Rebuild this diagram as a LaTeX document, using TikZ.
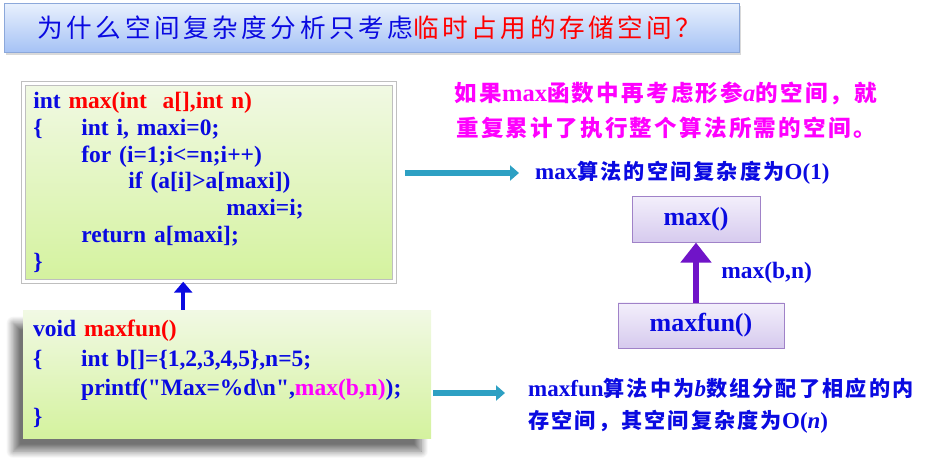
\documentclass[tikz,border=0pt]{standalone}
\usepackage{fontspec}
\setmainfont{Liberation Serif}
\newfontfamily\rawserif{Liberation Serif}
\newfontfamily\cjk[Scale=0.92,LetterSpace=10]{Noto Sans CJK SC}
\newfontfamily\cjktitle[LetterSpace=14]{Noto Sans CJK SC}
\usetikzlibrary{arrows.meta,positioning,calc,shadows,shadows.blur}
\definecolor{codeblue}{RGB}{10,10,225}
\definecolor{codered}{RGB}{255,0,0}
\definecolor{notepink}{RGB}{255,0,255}
\definecolor{greentop}{RGB}{241,249,228}
\definecolor{greenbot}{RGB}{212,242,158}
\definecolor{titletop}{RGB}{232,240,253}
\definecolor{titlebot}{RGB}{165,194,245}
\definecolor{titleline}{RGB}{140,168,218}
\definecolor{violettop}{RGB}{243,239,251}
\definecolor{violetbot}{RGB}{214,202,238}
\definecolor{violetline}{RGB}{160,130,200}
\definecolor{callcol}{RGB}{112,20,200}
\definecolor{flowcol}{RGB}{45,160,195}
\newcommand{\zh}[1]{{\cjk #1}}
\newcommand{\dq}{{\rawserif"}}

\begin{document}
\begin{tikzpicture}[x=1pt,y=-1pt,
   banner/.style={draw=titleline,line width=1pt,top color=titletop,bottom color=titlebot,
                  minimum width=735pt,minimum height=49pt,inner xsep=33pt,text width=669pt,
                  align=left,font=\fontsize{25.6}{30}\selectfont\cjktitle,
                  drop shadow={shadow xshift=1.5pt,shadow yshift=-2.5pt,opacity=.3}},
   code/.style={top color=greentop,bottom color=greenbot,inner xsep=10pt,align=left,
                text=codeblue,font=\fontsize{23.5}{26.8}\selectfont\bfseries},
   frame/.style={draw=black!25,line width=.7pt,double=white,double distance=3.5pt,
                 drop shadow={shadow xshift=1pt,shadow yshift=-1.5pt,opacity=.25}},
   call/.style={draw=violetline,line width=.8pt,top color=violettop,bottom color=violetbot,
                text=codeblue,font=\fontsize{26}{30}\selectfont\bfseries},
   txt/.style={inner sep=0pt,text=codeblue,font=\fontsize{23}{32}\selectfont\bfseries},
   flow/.style={-{Triangle[width=15pt,length=9pt]},line width=6.5pt,flowcol},
   callup/.style={-{Triangle[width=18pt,length=11pt]},line width=4pt,codeblue},
   callarrow/.style={-{Triangle[width=30pt,length=20pt]},line width=6.5pt,callcol}]
  \useasboundingbox (0,0) rectangle (940,462);

  \node[banner,anchor=north west] (title) at (4,3)
        {{\color{codeblue}为什么空间复杂度分析只考虑}{\color{codered}临时占用的存储空间？}};

  % the two code boxes
  \node[code,frame,anchor=north west,text width=351pt,minimum height=198pt] (codemax) at (23,83)
        {int {\color{codered}max(int\ \ a[],int n)}\\
         \makebox[48pt][l]{\{}int i, maxi=0;\\
         \hspace*{48pt}for (i=1;i<=n;i++)\\
         \hspace*{95pt}if (a[i]>a[maxi])\\
         \hspace*{193pt}maxi=i;\\
         \hspace*{48pt}return a[maxi];\\
         \}};
  \node[code,anchor=north west,text width=388pt,minimum height=128pt,
        font=\fontsize{23.5}{29.3}\selectfont\bfseries,
        blur shadow={shadow xshift=-10pt,shadow yshift=-13pt,shadow blur radius=7pt,
                     shadow blur steps=12,shadow opacity=55}] (codefun) at (23,310)
        {void {\color{codered}maxfun()}\\
         \makebox[48pt][l]{\{}int b[]=\{1,2,3,4,5\},n=5;\\
         \hspace*{48pt}printf(\dq Max=\%d\textbackslash n\dq,{\color{notepink}max(b,n)});\\
         \}};

  % notes on the right
  \node[align=center,inner sep=0pt,text=notepink,font=\fontsize{24.5}{35}\selectfont\bfseries]
        (note1) at (666,110)
        {\zh{如果}max\zh{函数中再考虑形参}\textit{a}\zh{的空间，就}\\
         \zh{重复累计了执行整个算法所需的空间。}};
  \node[txt,anchor=west] (cplx) at (535,173) {max\zh{算法的空间复杂度为}O(1)};
  \node[txt,anchor=west,align=left] (note2) at (528,406)
        {maxfun\zh{算法中为}\textit{b}\zh{数组分配了相应的内}\\
         \zh{存空间，其空间复杂度为}O(\textit{n})};

  % call diagram
  \node[call,minimum width=166pt,minimum height=45pt] (maxfun) at (701,325.5) {maxfun()};
  \node[call,minimum width=128pt,minimum height=46pt,above=60pt of maxfun,xshift=-5pt] (maxbox) {max()};

  \draw[callarrow] (maxbox.south |- maxfun.north) --
        node[txt,right=22pt,font=\fontsize{23.5}{28}\selectfont\bfseries]{max(b,n)} (maxbox.south);
  \draw[flow,shorten <=10pt,shorten >=16pt] (cplx.west -| codemax.east) -- (cplx.west);
  \coordinate (a2) at ([yshift=13pt]note2.west);
  \draw[flow,shorten <=2pt,shorten >=23pt] (a2 -| codefun.east) -- (a2);
  \coordinate (up) at ([xshift=-44pt]codefun.north);
  \draw[callup] (up) -- (up |- codemax.south);
\end{tikzpicture}
\end{document}
